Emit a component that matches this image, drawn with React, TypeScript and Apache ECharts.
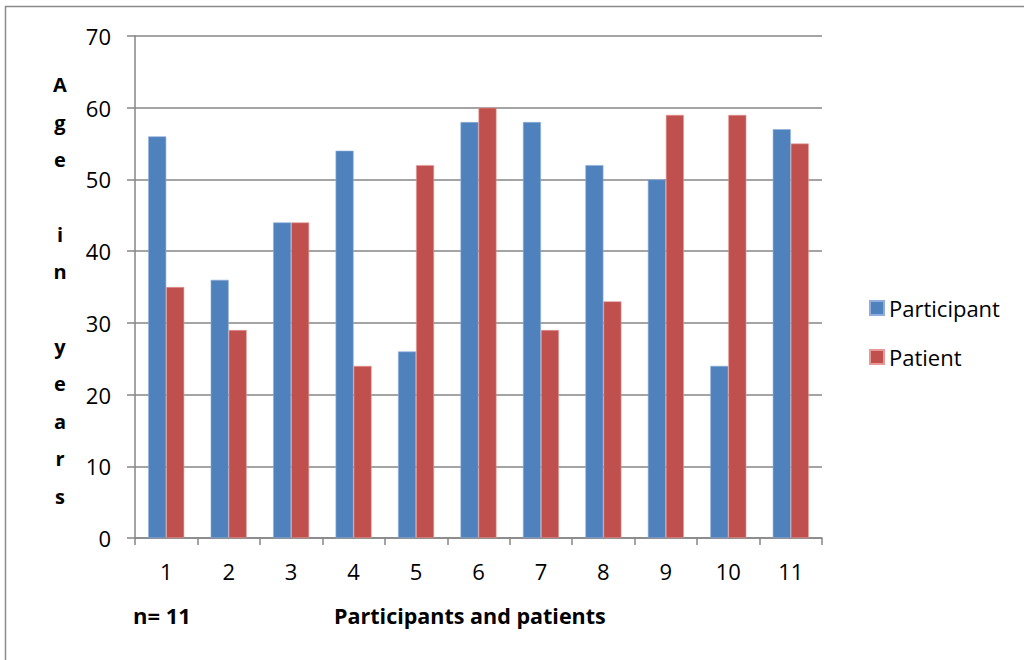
import React, { useEffect, useRef } from "react";
import * as echarts from "echarts";

const categories = ["1", "2", "3", "4", "5", "6", "7", "8", "9", "10", "11"];
const participantAges = [56, 36, 44, 54, 26, 58, 58, 52, 50, 24, 57];
const patientAges = [35, 29, 44, 24, 52, 60, 29, 33, 59, 59, 55];
const yTicks = { min: 0, max: 70, interval: 10 };

const FONT = "'Open Sans', Lato, sans-serif";
const GRID_COLOR = "#868686";

export default function App() {
  const ref = useRef<HTMLDivElement>(null);
  useEffect(() => {
    if (!ref.current) return;
    const chart = echarts.init(ref.current, undefined, { renderer: "svg" });
    chart.setOption({
      animation: false,
      backgroundColor: "#ffffff",
      textStyle: { fontFamily: FONT },
      grid: { left: 135, right: 202, top: 36, bottom: 122, containLabel: false },
      legend: {
        orient: "vertical",
        left: 864,
        top: 292,
        itemWidth: 14,
        itemHeight: 14,
        itemGap: 27,
        icon: "rect",
        textStyle: { fontFamily: FONT, fontSize: 22, lineHeight: 22, color: "#000" },
        data: ["Participant", "Patient"],
      },
      xAxis: {
        type: "category",
        data: categories,
        axisLine: { lineStyle: { color: GRID_COLOR, width: 1.5 } },
        axisTick: { show: true, length: 7, lineStyle: { color: GRID_COLOR, width: 1.5 } },
        axisLabel: { fontFamily: FONT, fontSize: 22, color: "#000", margin: 22 },
      },
      yAxis: {
        type: "value",
        min: yTicks.min,
        max: yTicks.max,
        interval: yTicks.interval,
        axisLine: { show: true, lineStyle: { color: GRID_COLOR, width: 1.5 } },
        axisTick: { show: true, length: 8, lineStyle: { color: GRID_COLOR, width: 1.5 } },
        splitLine: { lineStyle: { color: GRID_COLOR, width: 1.5 } },
        axisLabel: { fontFamily: FONT, fontSize: 22, color: "#000", margin: 24 },
      },
      series: [
        {
          name: "Participant",
          type: "bar",
          data: participantAges,
          barWidth: 18,
          barGap: "0%",
          itemStyle: { color: "#4F81BD", borderColor: "#8FAEDB", borderWidth: 0.6 },
        },
        {
          name: "Patient",
          type: "bar",
          data: patientAges,
          barWidth: 18,
          barGap: "0%",
          itemStyle: { color: "#C0504D", borderColor: "#E59A98", borderWidth: 0.6 },
        },
      ],
      graphic: [
        {
          type: "rect",
          shape: { x: 5.5, y: 6.5, width: 1040, height: 700 },
          style: { fill: "none", stroke: "#8a8a8a", lineWidth: 1.5 },
          silent: true,
        },
        {
          type: "text",
          x: 60,
          y: 66,
          style: {
            text: "A\ng\ne\n\ni\nn\n\ny\ne\na\nr\ns",
            fontFamily: FONT,
            fontSize: 20,
            fontWeight: "bold",
            lineHeight: 37.4,
            fill: "#000",
            align: "center",
            verticalAlign: "top",
          },
        },
        {
          type: "text",
          x: 133,
          y: 615,
          style: {
            text: "n= 11",
            fontFamily: FONT,
            fontSize: 22,
            fontWeight: "bold",
            fill: "#000",
            verticalAlign: "middle",
          },
        },
        {
          type: "text",
          x: 334,
          y: 615,
          style: {
            text: "Participants and patients",
            fontFamily: FONT,
            fontSize: 21.5,
            fontWeight: "bold",
            fill: "#000",
            verticalAlign: "middle",
          },
        },
      ],
    });
    return () => chart.dispose();
  }, []);
  return <div ref={ref} style={{ width: 1024, height: 660, position: "absolute", left: 0, top: 0 }} />;
}
